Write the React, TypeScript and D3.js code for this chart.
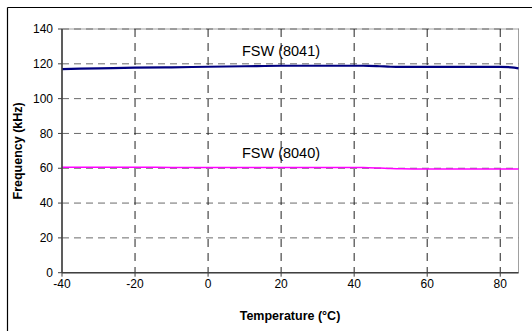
import React from "react";
import * as d3 from "d3";

const temps = [-40, -30, -20, -10, 0, 10, 20, 30, 40, 44, 47, 50, 53, 60, 70, 80, 83, 85];
const fsw8041 = [117.0, 117.4, 117.8, 118.0, 118.3, 118.6, 118.9, 118.9, 118.9, 118.85, 118.6, 118.3, 118.2, 118.2, 118.2, 118.2, 118.0, 117.4];
const fsw8040 = [60.6, 60.6, 60.6, 60.5, 60.4, 60.4, 60.4, 60.4, 60.4, 60.35, 60.1, 59.8, 59.65, 59.6, 59.6, 59.6, 59.6, 59.6];
const xTicks = [-40, -20, 0, 20, 40, 60, 80];
const yTicks = [0, 20, 40, 60, 80, 100, 120, 140];

const W = 532;
const H = 331;
const left = 62;
const right = 518.5;
const top = 29;
const bottom = 272.7;

export default function App() {
  const x = d3.scaleLinear().domain([-40, 85]).range([left, right]);
  const y = d3.scaleLinear().domain([0, 140]).range([bottom, top]);
  const line = d3
    .line<number>()
    .x((_, i) => x(temps[i]))
    .y((d) => y(d))
    .curve(d3.curveMonotoneX);
  const font = "Arial, 'Liberation Sans', sans-serif";

  return (
    <svg
      width={W}
      height={H}
      style={{ position: "absolute", left: 0, top: 0 }}
      fontFamily={font}
    >
      <rect x={0} y={0} width={W} height={H} fill="#fff" />
      {/* outer frame */}
      <line x1={7.5} y1={7.5} x2={W} y2={7.5} stroke="#000" strokeWidth={1.2} />
      <line x1={7.5} y1={7.5} x2={7.5} y2={H} stroke="#000" strokeWidth={1.2} />

      {/* plot frame (top, right) */}
      <rect x={left} y={top} width={right - left} height={bottom - top} fill="none" stroke="#a0a0a0" strokeWidth={1} />

      {/* horizontal gridlines */}
      {yTicks.slice(1).map((t) => (
        <line key={"h" + t} x1={left} x2={right} y1={y(t)} y2={y(t)} stroke="#6a6a6a" strokeWidth={1} strokeDasharray="7,5" />
      ))}
      {/* vertical gridlines */}
      {xTicks.slice(1).map((t) => (
        <line key={"v" + t} x1={x(t)} x2={x(t)} y1={top} y2={bottom} stroke="#222" strokeWidth={1} strokeDasharray="8,6" />
      ))}

      {/* series */}
      <path d={line(fsw8040) ?? ""} fill="none" stroke="#ff00ff" strokeWidth={1.5} />
      <path d={line(fsw8041) ?? ""} fill="none" stroke="#000080" strokeWidth={2.2} />

      {/* axes */}
      <line x1={left} x2={left} y1={top} y2={bottom} stroke="#404040" strokeWidth={1.6} />
      <line x1={left} x2={right} y1={bottom} y2={bottom} stroke="#404040" strokeWidth={1.6} />
      {yTicks.map((t) => (
        <g key={"yt" + t}>
          <line x1={left - 4} x2={left} y1={y(t)} y2={y(t)} stroke="#404040" strokeWidth={1} />
          <text x={53} y={y(t)} dy="0.35em" textAnchor="end" fontSize={12} fill="#000">
            {t}
          </text>
        </g>
      ))}
      {xTicks.map((t) => (
        <g key={"xt" + t}>
          <line x1={x(t)} x2={x(t)} y1={bottom} y2={bottom + 4} stroke="#404040" strokeWidth={1} />
          <text x={x(t)} y={287.5} textAnchor="middle" fontSize={12} fill="#000">
            {t}
          </text>
        </g>
      ))}

      {/* labels */}
      <text x={281} y={56} textAnchor="middle" fontSize={14.5} fill="#000">FSW (8041)</text>
      <text x={281} y={158} textAnchor="middle" fontSize={14.5} fill="#000">FSW (8040)</text>
      <text x={290} y={320} textAnchor="middle" fontSize={12.5} fontWeight="bold" fill="#000">
        Temperature (°C)
      </text>
      <text
        transform={`translate(22, ${(top + bottom) / 2}) rotate(-90)`}
        textAnchor="middle"
        fontSize={12.5}
        fontWeight="bold"
        fill="#000"
      >
        Frequency (kHz)
      </text>
    </svg>
  );
}
